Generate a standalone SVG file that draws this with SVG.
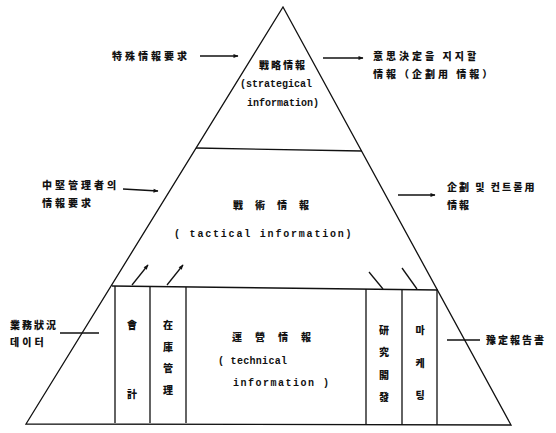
<svg xmlns="http://www.w3.org/2000/svg" width="556" height="433" viewBox="0 0 556 433">
<style>
.ln{stroke:#111;stroke-width:1.3;fill:none}
.cjk{font-family:"Noto Sans CJK KR","Noto Sans CJK SC",sans-serif;font-weight:900;font-size:10px;fill:#111}
.en{font-family:"Liberation Mono",monospace;font-weight:bold;font-size:10px;fill:#111}
.mid{text-anchor:middle}
</style>
<defs>
<marker id="ah" viewBox="0 0 10 10" refX="9" refY="5" markerWidth="6" markerHeight="5" orient="auto" markerUnits="userSpaceOnUse">
<path d="M0,1 L10,5 L0,9 Z" fill="#111"/>
</marker>
</defs>
<rect width="556" height="433" fill="#fff"/>
<g id="pyramid">
<path class="ln" d="M26,424 L283,7 L511,425 Z"/>
<path class="ln" d="M196,148 L362,151"/>
<path class="ln" d="M112,286 L438,290"/>
</g>
<g id="strategic">
<text class="cjk mid" x="283" y="69" letter-spacing="2">戰略情報</text>
<text class="en" x="240" y="87">(strategical</text>
<text class="en" x="247" y="106">information)</text>
</g>
<g id="tactical">
<text class="cjk mid" x="277" y="209" letter-spacing="12">戰術情報</text>
<text class="en" x="174" y="237" font-size="11" letter-spacing="1.8">( tactical information)</text>
</g>
<g id="technical">
<text class="cjk" x="232" y="341" letter-spacing="13">運營情報</text>
<text class="en" x="218" y="364" letter-spacing="0.3">( technical</text>
<text class="en" x="233" y="386" letter-spacing="1.5">information )</text>
</g>
<g id="box-accounting">
<path class="ln" d="M115,286 L115,423 M150,287 L150,423"/>
<text class="cjk mid" x="132" y="329">會</text>
<text class="cjk mid" x="132" y="398">計</text>
</g>
<g id="box-inventory">
<path class="ln" d="M186,287 L186,423"/>
<text class="cjk mid" x="168" y="329">在</text>
<text class="cjk mid" x="168" y="351">庫</text>
<text class="cjk mid" x="168" y="372">管</text>
<text class="cjk mid" x="168" y="394">理</text>
</g>
<g id="box-rnd">
<path class="ln" d="M366,289 L366,425 M402,290 L402,425"/>
<text class="cjk mid" x="384" y="334">研</text>
<text class="cjk mid" x="384" y="356">究</text>
<text class="cjk mid" x="384" y="379">開</text>
<text class="cjk mid" x="384" y="401">發</text>
</g>
<g id="box-marketing">
<path class="ln" d="M437,290 L437,425"/>
<text class="cjk mid" x="420" y="334">마</text>
<text class="cjk mid" x="420" y="367">케</text>
<text class="cjk mid" x="420" y="399">팅</text>
</g>
<g id="labels">
<text class="cjk" x="112" y="60" letter-spacing="3">特殊情報要求</text>
<text class="cjk" x="373" y="60" letter-spacing="3">意思決定을  지지할</text>
<text class="cjk" x="373" y="78" letter-spacing="3">情報（企劃用 情報）</text>
<text class="cjk" x="42" y="189" letter-spacing="3">中堅管理者의</text>
<text class="cjk" x="42" y="207" letter-spacing="3">情報要求</text>
<text class="cjk" x="447" y="191" letter-spacing="2">企劃 및 컨트롤用</text>
<text class="cjk" x="447" y="209" letter-spacing="2">情報</text>
<text class="cjk" x="10" y="329" letter-spacing="2">業務狀況</text>
<text class="cjk" x="10" y="346" letter-spacing="3">데이터</text>
<text class="cjk" x="486" y="344" letter-spacing="2">豫定報告書</text>
</g>
<g id="connectors">
<path class="ln" d="M200,56 L238,56" marker-end="url(#ah)"/>
<path class="ln" d="M323,58 L363,58" marker-end="url(#ah)"/>
<path class="ln" d="M123,189 L158,191" marker-end="url(#ah)"/>
<path class="ln" d="M398,195 L435,195" marker-end="url(#ah)"/>
<path class="ln" d="M60,333 L99,333"/>
<path class="ln" d="M447,340 L480,340"/>
<path class="ln" d="M132,285 L148,265" marker-end="url(#ah)"/>
<path class="ln" d="M167,285 L183,265" marker-end="url(#ah)"/>
<path class="ln" d="M369,272 L383,289"/>
<path class="ln" d="M402,268 L417,289"/>
</g>
</svg>
